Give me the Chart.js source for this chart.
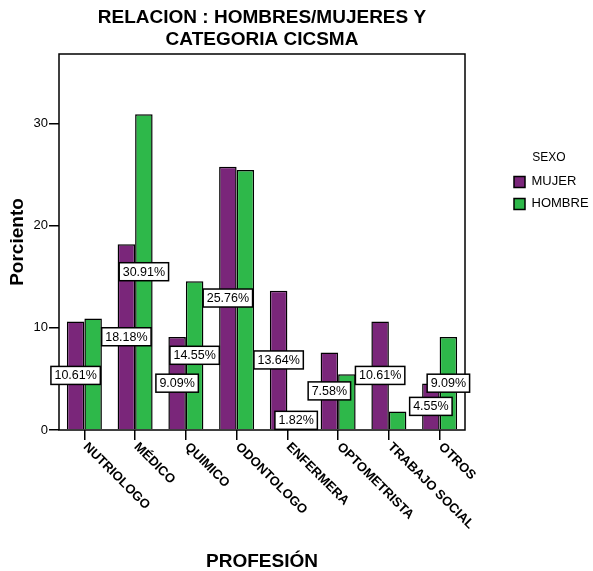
<!DOCTYPE html>
<html>
<head>
<meta charset="utf-8">
<script src="https://cdn.jsdelivr.net/npm/chart.js@4"></script>
<style>
  body { margin: 0; background: #fff; }
</style>
</head>
<body>
<canvas id="chart" width="593" height="571"></canvas>
<script>
const categorias = ['NUTRIOLOGO', 'MÉDICO', 'QUIMICO', 'ODONTOLOGO', 'ENFERMERA', 'OPTOMETRISTA', 'TRABAJO SOCIAL', 'OTROS'];
const mujer = [10.61, 18.18, 9.09, 25.76, 13.64, 7.58, 10.61, 4.55];
const hombre = [10.91, 30.91, 14.55, 25.45, 1.82, 5.45, 1.82, 9.09];
const etiquetasMujer = ['10.61%', '18.18%', '9.09%', '25.76%', '13.64%', '7.58%', '10.61%', '4.55%'];
const etiquetasHombre = [null, '30.91%', '14.55%', null, '1.82%', null, null, '9.09%'];
const yTicks = [0, 10, 20, 30];

const fuente = '"Liberation Sans", Arial, sans-serif';
Chart.defaults.font.family = fuente;
Chart.defaults.color = '#000';

const dibujos = {
  id: 'dibujos',
  afterDatasetsDraw(chart) {
    const ctx = chart.ctx;
    const area = chart.chartArea;
    ctx.save();
    ctx.lineWidth = 1.5;
    ctx.strokeStyle = '#000';
    ctx.strokeRect(area.left, area.top, area.right - area.left, area.bottom - area.top);

    ctx.font = '12.5px ' + fuente;
    ctx.textAlign = 'center';
    ctx.textBaseline = 'middle';
    [etiquetasMujer, etiquetasHombre].forEach((etq, d) => {
      chart.getDatasetMeta(d).data.forEach((bar, i) => {
        if (!etq[i]) return;
        const cy = (bar.y + bar.base) / 2;
        const w = ctx.measureText(etq[i]).width + 7;
        const h = 18;
        ctx.fillStyle = '#fff';
        ctx.fillRect(bar.x - w / 2, cy - h / 2, w, h);
        ctx.strokeRect(bar.x - w / 2, cy - h / 2, w, h);
        ctx.fillStyle = '#000';
        ctx.fillText(etq[i], bar.x, cy + 0.5);
      });
    });
    ctx.restore();
  },
  afterDraw(chart) {
    const ctx = chart.ctx;
    const x = chart.scales.x;
    const bottom = chart.chartArea.bottom;
    ctx.save();
    ctx.font = 'bold 13px ' + fuente;
    ctx.fillStyle = '#000';
    ctx.textAlign = 'left';
    ctx.textBaseline = 'middle';
    categorias.forEach((c, i) => {
      ctx.save();
      ctx.translate(x.getPixelForTick(i) + 1, bottom + 15);
      ctx.rotate(Math.PI / 4);
      ctx.fillText(c, 0, 0);
      ctx.restore();
    });
    ctx.restore();
  }
};

new Chart(document.getElementById('chart'), {
  type: 'bar',
  data: {
    labels: categorias,
    datasets: [
      {
        label: 'MUJER',
        data: mujer,
        backgroundColor: '#7a267a',
        borderColor: '#000',
        borderWidth: 1.5
      },
      {
        label: 'HOMBRE',
        data: hombre,
        backgroundColor: '#2eb84a',
        borderColor: '#000',
        borderWidth: 1.5
      }
    ]
  },
  options: {
    responsive: false,
    animation: false,
    layout: { padding: 0 },
    categoryPercentage: 0.69,
    barPercentage: 1,
    plugins: {
      title: {
        display: true,
        fullSize: false,
        text: ['RELACION : HOMBRES/MUJERES Y', 'CATEGORIA CICSMA'],
        font: { size: 19, weight: 'bold', lineHeight: 1.2 },
        color: '#000',
        padding: { top: 6, bottom: 2.4 }
      },
      legend: {
        position: 'right',
        align: 'start',
        maxWidth: 88,
        title: {
          display: true,
          text: 'SEXO',
          font: { size: 12 },
          color: '#000',
          padding: { top: 152, bottom: 0 }
        },
        labels: {
          boxWidth: 11,
          boxHeight: 11,
          padding: 9,
          font: { size: 13 },
          color: '#000'
        }
      },
      tooltip: { enabled: false }
    },
    scales: {
      x: {
        offset: true,
        grid: { display: true, offset: false, drawOnChartArea: false, drawTicks: true, tickLength: 10, color: '#000', lineWidth: 1.5 },
        border: { display: false },
        ticks: { display: false },
        title: {
          display: true,
          text: 'PROFESIÓN',
          font: { size: 19, weight: 'bold', lineHeight: 1 },
          color: '#000',
          padding: 0
        },
        afterFit: (s) => { s.height = 141; }
      },
      y: {
        min: 0,
        max: 36.8,
        grid: { display: true, drawOnChartArea: false, drawTicks: true, tickLength: 10, color: '#000', lineWidth: 1.5 },
        border: { display: false },
        ticks: { font: { size: 13 }, color: '#000', padding: 1 },
        afterBuildTicks: (s) => { s.ticks = yTicks.map(v => ({ value: v })); },
        title: {
          display: true,
          text: 'Porciento',
          font: { size: 19, weight: 'bold', lineHeight: 1.2 },
          color: '#000',
          padding: { top: 6, bottom: 0 }
        },
        afterFit: (s) => { s.width = 59; }
      },
      espacio: {
        type: 'linear',
        position: 'right',
        display: true,
        grid: { display: false },
        border: { display: false },
        ticks: { display: false },
        afterFit: (s) => { s.width = 40; }
      }
    }
  },
  plugins: [dibujos]
});
</script>
</body>
</html>
